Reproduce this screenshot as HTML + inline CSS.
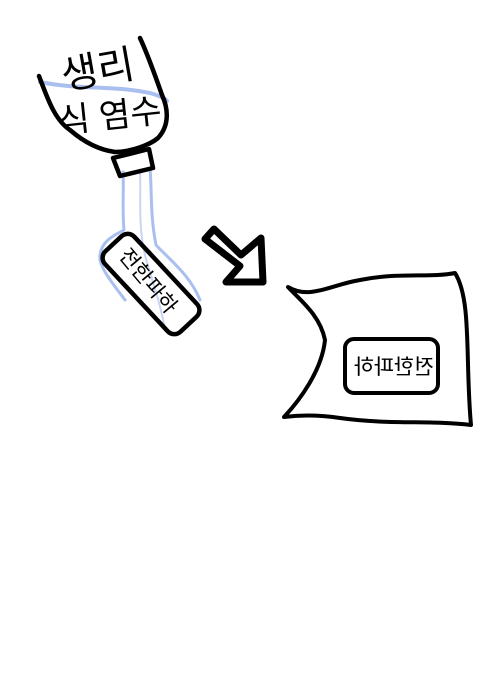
<!DOCTYPE html>
<html><head><meta charset="utf-8"><style>
html,body{margin:0;padding:0;background:#fff;width:500px;height:700px;overflow:hidden}
text{font-family:"Liberation Sans","Noto Sans CJK KR","NanumGothic",sans-serif;fill:#000}
</style></head><body>
<svg width="500" height="700" viewBox="0 0 500 700" xmlns="http://www.w3.org/2000/svg">
<g fill="none" stroke-linecap="round" stroke-linejoin="round">
<path d="M40,82 C80,90 110,85 150,93 C160,96 165,98 167,101" stroke="#a9bff0" stroke-width="4"/>
<path d="M123,172 C124,190 122,210 124,230 C115,235 102,240 100,255 C98,265 110,280 125,300" stroke="#a9bff0" stroke-width="3"/>
<path d="M150,168 C152,190 150,215 156,245 C170,260 190,275 200,300" stroke="#a9bff0" stroke-width="3"/>
<path d="M140,170 C141,200 138,225 145,255 C150,275 160,300 165,330" stroke="#c8d6f6" stroke-width="2"/>
<path d="M39,76 C48,100 55,120 70,130 C85,143 100,150 115,152 C130,152 150,145 158,138 C170,125 168,108 162,95 C155,75 148,55 140,38" stroke="#000" stroke-width="4.5"/>
<path d="M113,158 L149,149 L153,168 L120,176 Z" stroke="#000" stroke-width="4.5"/>
<g transform="translate(151,284) rotate(47)">
<rect x="-55" y="-20" width="110" height="40" rx="9" stroke="#000" stroke-width="4.5"/>
</g>
<path d="M205,239 L214,229 L241,255 L261,238 L263,282 L226,282 L240,266 Z" stroke="#000" stroke-width="7"/>
<path d="M288,287 C310,300 330,285 360,280 C400,272 430,278 455,273 C472,300 465,360 471,425 C430,420 390,425 340,418 C320,415 300,415 284,417 C300,400 322,370 325,340 C320,315 300,300 288,287 Z" stroke="#000" stroke-width="4"/>
<rect x="345" y="339" width="93" height="54" rx="9" stroke="#000" stroke-width="4"/>
</g>
<text x="60" y="84" font-size="40" transform="rotate(-10 95 65)">생리</text>
<text x="58" y="128" font-size="34" transform="rotate(-6 105 112)">식 염수</text>
<text x="0" y="0" font-size="21" transform="translate(118,256) rotate(50)">전한파하</text>
<text x="0" y="0" font-size="21" transform="translate(434,374) scale(-1,1)" textLength="80" lengthAdjust="spacingAndGlyphs">전한파하</text>
</svg>
</body></html>
